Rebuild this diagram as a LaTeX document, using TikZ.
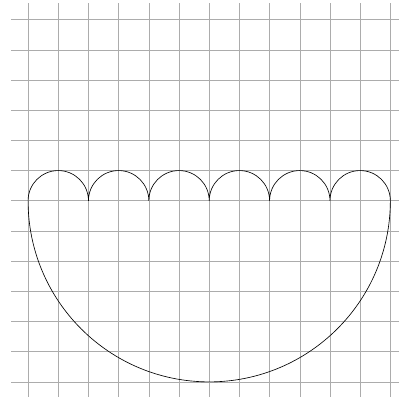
\documentclass[tikz,border=0pt]{standalone}
\usepackage{tikz}

\begin{document}
\begin{tikzpicture}[
    gridline/.style={gray!65, line width=0.5pt},
    outline/.style={black, line width=0.6pt}
]
\useasboundingbox (-0.93,-0.6) rectangle (12.3,12.65);
\draw[gridline] (-0.55,-0.5) grid (12.3,12.55);

% six small arches on top, one big bowl below
\draw[outline] (0,6)
    foreach \k in {1,...,6} { arc[start angle=180, end angle=0, radius=1] }
    arc[start angle=0, end angle=-180, radius=6];
\end{tikzpicture}
\end{document}
